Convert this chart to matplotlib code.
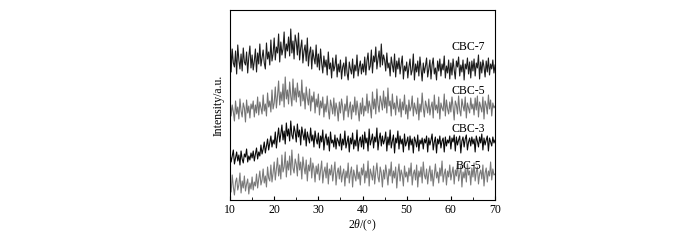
import numpy as np
import matplotlib
matplotlib.use('Agg')
import matplotlib.pyplot as plt
from matplotlib.ticker import MultipleLocator

plt.rcParams['font.family'] = ['Liberation Serif', 'DejaVu Serif']
plt.rcParams['mathtext.fontset'] = 'custom'
plt.rcParams['mathtext.it'] = 'Liberation Serif:italic'
plt.rcParams['mathtext.rm'] = 'Liberation Serif'

# 2theta grid (deg), values every 0.25 deg
two_theta = np.arange(10, 70.001, 0.25)

cbc7 = [172, 128, 151, 137, 133, 149, 126, 155, 140, 131, 146, 129, 152, 138, 135, 148, 127, 143, 154, 132,
        145, 130, 139, 151, 128, 147, 136, 156, 134, 142, 150, 137, 131, 157, 141, 148, 135, 160, 139, 146,
        162, 140, 153, 147, 166, 138, 158, 145, 151, 168, 142, 156, 149, 163, 144, 171, 147, 159, 141, 165,
        158, 145, 167, 140, 152, 160, 137, 149, 155, 139, 162, 134, 147, 153, 131, 150, 142, 136, 155, 133,
        146, 130, 151, 137, 127, 144, 133, 140, 125, 148, 131, 137, 122, 142, 129, 134, 145, 123, 136, 128,
        140, 121, 133, 137, 124, 143, 127, 120, 138, 131, 126, 141, 122, 135, 129, 145, 124, 133, 139, 126,
        136, 128, 143, 125, 139, 147, 130, 134, 150, 127, 144, 138, 153, 131, 141, 149, 133, 156, 135, 145,
        140, 129, 147, 132, 137, 124, 143, 135, 128, 146, 123, 139, 131, 142, 126, 136, 144, 121, 134, 129,
        138, 122, 133, 141, 125, 130, 146, 120, 136, 128, 139, 124, 143, 131, 119, 137, 127, 134, 142, 123,
        131, 140, 121, 135, 142, 126, 132, 120, 139, 129, 141, 124, 136, 130, 144, 122, 134, 127, 140, 121,
        137, 125, 141, 130, 121, 139, 133, 143, 124, 135, 128, 140, 120, 136, 131, 142, 126, 138, 122, 139,
        129, 141, 124, 137, 132, 145, 121, 138, 127, 140, 133, 123, 139, 128, 142, 125, 136, 131, 140, 127,
        135]

cbc5 = [103, 84, 95, 88, 79, 99, 86, 93, 81, 101, 89, 83, 97, 92, 78, 100, 87, 94, 82, 96,
        91, 99, 83, 95, 87, 103, 85, 98, 92, 86, 105, 89, 96, 84, 107, 93, 99, 88, 110, 91,
        97, 113, 92, 104, 119, 95, 108, 99, 116, 93, 123, 101, 110, 96, 118, 104, 94, 121, 100, 112,
        98, 117, 103, 109, 94, 120, 99, 107, 91, 113, 102, 95, 111, 89, 104, 98, 108, 87, 101, 93,
        106, 85, 99, 92, 103, 83, 96, 88, 104, 90, 81, 100, 94, 86, 102, 84, 97, 91, 79, 98,
        87, 101, 93, 80, 96, 89, 104, 83, 92, 98, 81, 95, 88, 103, 85, 99, 90, 79, 97, 86,
        102, 84, 94, 89, 106, 87, 99, 93, 82, 108, 91, 101, 86, 111, 95, 88, 104, 98, 90, 109,
        92, 103, 87, 112, 94, 99, 84, 106, 91, 97, 85, 104, 93, 88, 101, 83, 98, 90, 105, 86,
        95, 81, 100, 89, 93, 104, 84, 97, 91, 86, 102, 80, 96, 88, 107, 92, 83, 99, 94, 87,
        101, 85, 93, 98, 82, 105, 90, 95, 87, 103, 81, 97, 92, 89, 106, 84, 100, 91, 86, 98,
        88, 103, 93, 80, 99, 95, 86, 104, 90, 84, 101, 94, 89, 103, 82, 97, 92, 87, 102, 91,
        96, 85, 102, 90, 104, 83, 98, 93, 88, 103, 81, 99, 95, 86, 105, 91, 100, 84, 97, 92,
        94]

cbc3 = [47, 38, 44, 50, 36, 42, 48, 39, 45, 35, 49, 41, 37, 46, 43, 51, 38, 44, 40, 47,
        42, 49, 39, 46, 52, 41, 48, 44, 55, 46, 51, 58, 47, 54, 61, 50, 57, 64, 53, 60,
        56, 68, 52, 63, 72, 58, 66, 75, 60, 69, 56, 77, 64, 71, 59, 79, 65, 61, 74, 68,
        58, 76, 63, 70, 55, 73, 66, 60, 71, 54, 68, 62, 57, 72, 59, 65, 53, 69, 61, 56,
        67, 52, 64, 58, 70, 50, 61, 66, 55, 63, 49, 68, 57, 60, 53, 65, 51, 62, 59, 54,
        66, 50, 61, 55, 69, 52, 58, 64, 48, 62, 56, 67, 51, 60, 54, 70, 49, 59, 63, 53,
        65, 51, 68, 57, 62, 49, 71, 55, 60, 66, 52, 63, 58, 72, 50, 61, 67, 54, 64, 56,
        60, 68, 49, 63, 55, 70, 52, 59, 65, 47, 62, 57, 69, 51, 64, 56, 61, 48, 66, 54,
        58, 63, 50, 64, 55, 61, 47, 63, 59, 53, 65, 49, 60, 56, 62, 51, 61, 57, 64, 48,
        62, 55, 60, 66, 50, 58, 63, 47, 61, 56, 64, 52, 59, 62, 48, 63, 54, 60, 57, 64,
        51, 62, 58, 65, 49, 63, 55, 60, 64, 47, 59, 63, 53, 61, 65, 50, 58, 62, 54, 63,
        56, 61, 48, 64, 59, 53, 63, 57, 66, 50, 62, 55, 60, 64, 49, 62, 58, 54, 63, 57,
        60]

bc5 = [20, 8, 25, 13, 5, 18, 22, 10, 15, 27, 7, 19, 12, 24, 9, 16, 21, 6, 17, 11,
       23, 10, 18, 14, 26, 12, 21, 29, 15, 20, 31, 17, 24, 13, 33, 22, 19, 35, 18, 27,
       38, 20, 31, 42, 24, 35, 21, 45, 28, 33, 48, 23, 39, 30, 44, 25, 50, 32, 27, 41,
       36, 24, 46, 30, 38, 21, 43, 33, 26, 40, 19, 35, 29, 42, 22, 37, 31, 18, 34, 26,
       36, 20, 30, 39, 17, 28, 33, 22, 37, 16, 31, 25, 35, 19, 29, 38, 15, 27, 32, 21,
       34, 18, 26, 31, 14, 29, 22, 37, 17, 27, 33, 13, 30, 24, 19, 35, 21, 28, 15, 32,
       25, 36, 17, 29, 22, 39, 14, 31, 26, 20, 34, 16, 28, 37, 23, 18, 33, 27, 13, 30,
       21, 35, 26, 15, 31, 24, 38, 17, 29, 22, 33, 12, 27, 36, 19, 30, 25, 14, 34, 23,
       28, 18, 32, 24, 37, 15, 26, 30, 20, 35, 13, 29, 23, 33, 17, 38, 25, 21, 31, 16,
       27, 34, 19, 30, 14, 25, 36, 22, 28, 17, 32, 24, 39, 18, 26, 31, 15, 29, 23, 35,
       20, 27, 33, 16, 30, 24, 37, 19, 26, 34, 13, 28, 22, 31, 18, 36, 25, 29, 15, 32,
       23, 37, 19, 28, 33, 16, 26, 30, 21, 35, 14, 27, 32, 18, 29, 24, 38, 20, 31, 25,
       26]

labels = ['CBC-7', 'CBC-5', 'CBC-3', 'BC-5']
series = [cbc7, cbc5, cbc3, bc5]
colors = ['#1c1c1c', '#747474', '#080808', '#7a7a7a']
label_y = [153, 109, 71, 34]

fig = plt.figure(figsize=(7, 2.4), dpi=100)
ax = fig.add_axes([0.3286, 0.1667, 0.3786, 0.7917])

for s, c in zip(series, colors):
    ax.plot(two_theta, s, color=c, lw=0.8)

for lab, ly in zip(labels, label_y):
    ax.text(63.9, ly, lab, ha='center', va='center', fontsize=8.5)

ax.set_xlim(10, 70)
ax.set_ylim(0, 190)
ax.xaxis.set_major_locator(MultipleLocator(10))
ax.xaxis.set_minor_locator(MultipleLocator(5))
ax.tick_params(axis='x', which='both', direction='in', labelsize=8.5, pad=3)
ax.tick_params(axis='x', which='major', length=3)
ax.tick_params(axis='x', which='minor', length=2)
ax.set_yticks([])
for sp in ax.spines.values():
    sp.set_linewidth(0.8)

ax.set_xlabel(r'2$\it{\theta}$/(°)', fontsize=8.5, labelpad=1)
ax.set_ylabel('Intensity/a.u.', fontsize=8.5, labelpad=4)

fig.savefig('out.png', dpi=100)
